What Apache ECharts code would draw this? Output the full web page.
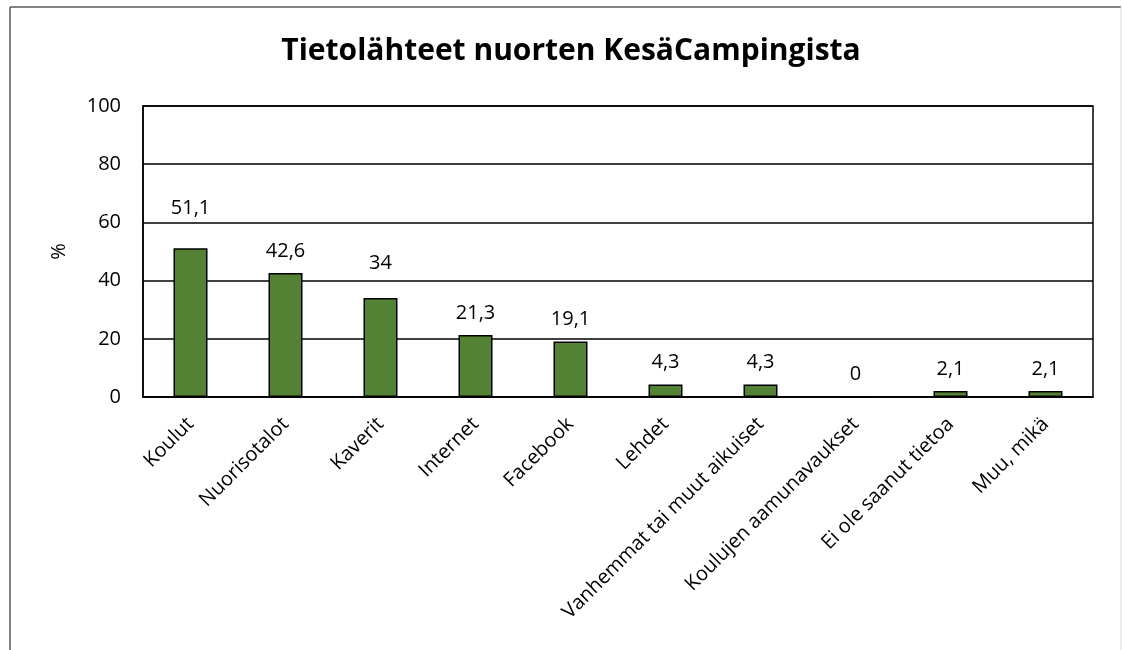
<!DOCTYPE html>
<html>
<head>
<meta charset="utf-8">
<script src="https://cdn.jsdelivr.net/npm/echarts@6/dist/echarts.min.js"></script>
<style>
    html, body { margin: 0; padding: 0; background: #fff; }
    #chart { width: 1122px; height: 650px; }
</style>
</head>
<body>
<div id="chart"></div>
<script>
// data
const categories = ['Koulut', 'Nuorisotalot', 'Kaverit', 'Internet', 'Facebook', 'Lehdet',
    'Vanhemmat tai muut aikuiset', 'Koulujen aamunavaukset', 'Ei ole saanut tietoa', 'Muu, mikä'];
const values = [51.1, 42.6, 34, 21.3, 19.1, 4.3, 4.3, 0, 2.1, 2.1];
const yTicks = [0, 20, 40, 60, 80, 100];

// some labels were dragged a bit higher in the original
const labelLift = { 0: 18, 2: 13 };

const font = '"Open Sans", "Noto Sans", sans-serif';
const chart = echarts.init(document.getElementById('chart'));

const fmt = v => String(v).replace('.', ',');

chart.setOption({
    animation: false,
    title: {
        text: 'Tietolähteet nuorten KesäCampingista',
        left: 566,
        textAlign: 'center',
        top: 31,
        textStyle: { fontFamily: font, fontSize: 30, fontWeight: 'bold', color: '#000' }
    },
    graphic: [
        { type: 'line', shape: { x1: 10, y1: 7, x2: 10, y2: 650 }, style: { stroke: '#595959', lineWidth: 1.5 } },
        { type: 'line', shape: { x1: 10, y1: 7, x2: 1121, y2: 7 }, style: { stroke: '#595959', lineWidth: 1.5 } },
        { type: 'line', shape: { x1: 1121, y1: 7, x2: 1121, y2: 650 }, style: { stroke: '#d9d9d9', lineWidth: 1 } }
    ],
    grid: {
        left: 143, right: 29, top: 106, bottom: 253,
        show: true, borderColor: '#000', borderWidth: 1.5
    },
    xAxis: {
        type: 'category',
        data: categories,
        axisLine: { lineStyle: { color: '#000', width: 1.5 } },
        axisTick: { show: false },
        axisLabel: {
            rotate: 45, interval: 0, margin: 24,
            fontFamily: font, fontSize: 20, color: '#000'
        }
    },
    yAxis: {
        type: 'value',
        min: yTicks[0], max: yTicks[yTicks.length - 1], interval: 20,
        name: '%',
        nameLocation: 'middle',
        nameGap: 74,
        nameTextStyle: { fontFamily: font, fontSize: 20, color: '#000' },
        axisLine: { show: true, lineStyle: { color: '#000', width: 1.5 } },
        axisTick: { show: false },
        axisLabel: { margin: 22, fontFamily: font, fontSize: 20, color: '#000' },
        splitLine: { lineStyle: { color: '#000', width: 1.5 } }
    },
    series: [{
        type: 'bar',
        barWidth: 34,
        data: values.map((v, i) => ({
            value: v,
            label: labelLift[i] ? { offset: [0, -labelLift[i]] } : undefined
        })),
        itemStyle: { color: '#548235', borderColor: '#000', borderWidth: 1.5 },
        label: {
            show: true, position: 'top', distance: 12,
            fontFamily: font, fontSize: 20, color: '#000',
            formatter: p => fmt(p.value)
        }
    }]
});
</script>
</body>
</html>
